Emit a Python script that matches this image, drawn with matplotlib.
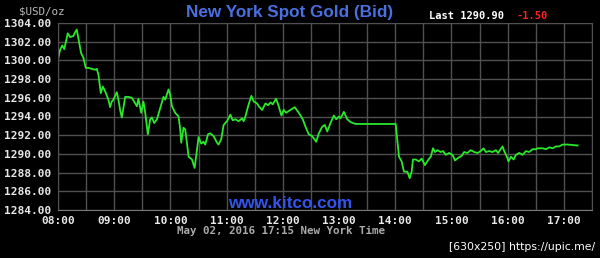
import matplotlib
matplotlib.use("Agg")
import matplotlib.pyplot as plt
import numpy as np

# minutes after 08:00 (New York)
minutes = [0, 2.1, 4.6, 6.7, 10.4, 12.8, 16.4, 18.2, 20.0, 21.7, 24.6, 27.1, 29.6, 32.4,
           39.6, 41.4, 43.1, 45.7, 47.8, 50.3, 53.8, 55.6, 57.4, 59.1, 61.0, 62.8, 64.5,
           66.3, 68.1, 69.8, 71.7, 75.2, 78.8, 82.4, 84.2, 85.9, 87.7, 88.8, 91.2, 93.0,
           95.9, 98.4, 100.2, 102.7, 105.6, 109.1, 112.6, 114.4, 118.0, 119.8, 121.6,
           125.1, 128.7, 130.5, 131.5, 134.0, 135.8, 137.6, 139.4, 143.0, 145.8, 148.3,
           150.0, 152.9, 155.4, 157.2, 160.1, 162.6, 166.1, 169.7, 171.4, 174.3, 176.8,
           180.4, 184.0, 186.4, 189.3, 192.8, 196.5, 198.2, 200.0, 203.5, 206.4, 208.9,
           212.5, 214.2, 217.9, 221.4, 224.3, 226.7, 229.2, 232.8, 235.6, 238.5, 240.9,
           243.5, 248.1, 252.7, 257.0, 261.3, 264.2, 267.7, 271.3, 275.6, 278.4, 282.0,
           284.8, 287.4, 290.9, 294.4, 297.0, 299.8, 301.6, 305.1, 308.8, 312.3, 317.6,
           360.4, 362.2, 364.0, 366.8, 369.3, 372.9, 375.4, 377.5, 378.9, 381.8, 385.3,
           388.2, 391.7, 395.4, 397.9, 400.3, 402.5, 405.0, 408.5, 411.0, 413.9, 417.4,
           421.1, 423.8, 427.5, 431.0, 433.5, 437.1, 440.6, 444.2, 447.8, 451.3, 454.2,
           456.7, 460.2, 463.8, 467.4, 469.8, 474.5, 476.3, 479.1, 480.9, 483.4, 486.3,
           488.8, 492.3, 495.9, 499.5, 503.0, 506.6, 510.1, 512.0, 517.3, 520.8, 524.3,
           528.0, 531.5, 535.0, 538.7, 544.0, 554.7]
bid = [1300.1, 1301.1, 1301.6, 1301.2, 1302.9, 1302.5, 1302.6, 1303.0, 1303.3, 1302.4,
       1300.8, 1300.3, 1299.2, 1299.2, 1299.0, 1299.1, 1298.5, 1296.5, 1297.2, 1296.7,
       1295.8, 1295.0, 1295.6, 1295.8, 1296.2, 1296.6, 1295.8, 1294.7, 1293.9, 1294.9,
       1296.1, 1296.1, 1296.0, 1295.4, 1295.1, 1295.9, 1295.0, 1294.4, 1295.6, 1294.5,
       1292.1, 1293.7, 1293.9, 1293.3, 1293.7, 1294.9, 1296.1, 1295.8, 1296.9, 1296.3,
       1295.1, 1294.4, 1294.0, 1292.6, 1291.2, 1292.8, 1292.6, 1291.2, 1289.7, 1289.4,
       1288.5, 1290.4, 1291.8, 1291.1, 1291.3, 1291.0, 1292.1, 1292.2, 1291.9, 1291.2,
       1291.0, 1291.6, 1293.1, 1293.5, 1294.2, 1293.6, 1293.7, 1293.5, 1293.8, 1293.5,
       1294.0, 1295.3, 1296.2, 1295.6, 1295.4, 1295.1, 1294.7, 1295.4, 1295.2, 1295.5,
       1295.3, 1295.9, 1295.1, 1294.1, 1294.7, 1294.4, 1294.7, 1295.0, 1294.4, 1293.7,
       1292.9, 1292.1, 1291.9, 1291.3, 1292.2, 1292.9, 1293.1, 1292.4, 1293.3, 1294.1,
       1293.7, 1294.0, 1293.8, 1294.5, 1293.7, 1293.4, 1293.2,
       1293.2, 1291.5, 1289.7, 1289.2, 1288.1, 1288.1, 1287.4, 1288.1, 1289.4, 1289.4,
       1289.2, 1289.5, 1288.8, 1289.4, 1289.7, 1290.6, 1290.2, 1290.4, 1290.2, 1290.3,
       1289.9, 1290.1, 1289.9, 1289.3, 1289.6, 1289.8, 1290.2, 1290.1, 1290.4, 1290.2,
       1290.1, 1290.3, 1290.6, 1290.2, 1290.3, 1290.2, 1290.4, 1290.1, 1290.8, 1290.3,
       1289.7, 1289.2, 1289.7, 1289.4, 1289.9, 1290.1, 1289.9, 1290.3, 1290.2, 1290.5,
       1290.5, 1290.6, 1290.6, 1290.5, 1290.7, 1290.6, 1290.8, 1290.8, 1291.0, 1291.0,
       1290.9]

hour_labels = ["08:00", "09:00", "10:00", "11:00", "12:00", "13:00",
               "14:00", "15:00", "16:00", "17:00"]
price_ticks = [1284, 1286, 1288, 1290, 1292, 1294, 1296, 1298, 1300, 1302, 1304]

mono = "DejaVu Sans Mono"
grid_c = "#505050"

fig = plt.figure(figsize=(6.0, 2.58), dpi=100, facecolor="black")
ax = fig.add_axes([58 / 600, 1 - 210 / 258, 534 / 600, 187 / 258], facecolor="black")

ax.plot(minutes, bid, color="#2ae82a", lw=1.3, solid_joinstyle="round")

ax.set_xlim(0, 570)
ax.set_ylim(1284, 1304)
ax.set_xticks([i * 60 for i in range(len(hour_labels))])
ax.set_xticklabels(hour_labels)
ax.set_xticks(np.arange(30, 571, 60), minor=True)
ax.set_yticks(price_ticks)
ax.set_yticklabels([f"{p:.2f}" for p in price_ticks])

ax.grid(True, which="both", color=grid_c, lw=1.0)
ax.set_axisbelow(True)
ax.tick_params(which="both", length=0, colors="#e8e8e8", labelsize=8)
ax.tick_params(axis="y", pad=5)
ax.tick_params(axis="x", pad=4)
for lab in ax.get_xticklabels() + ax.get_yticklabels():
    lab.set_fontfamily(mono)
    lab.set_fontweight("bold")
for s in ax.spines.values():
    s.set_color(grid_c)
ax.spines["bottom"].set_color("#777777")

fig.text(19 / 600, 1 - 11 / 258, "$USD/oz", color="#bbbbbb", family=mono,
         fontsize=7.8, va="center", ha="left")
fig.text(290 / 600, 1 - 12 / 258, "New York Spot Gold (Bid)", color="#4a6fe0",
         family="Liberation Sans", weight="bold", fontsize=12.3, ha="center", va="center")
fig.text(429 / 600, 1 - 16 / 258, "Last 1290.90", color="white", family=mono,
         weight="bold", fontsize=7.5, ha="left", va="center")
fig.text(517 / 600, 1 - 16 / 258, "-1.50", color="#ff2020", family=mono,
         weight="bold", fontsize=7.5, ha="left", va="center")
fig.text(290 / 600, 1 - 203 / 258, "www.kitco.com", color="#3355ee",
         family="Liberation Sans", weight="bold", fontsize=12.3, ha="center", va="center")
fig.text(281 / 600, 1 - 231 / 258, "May 02, 2016 17:15 New York Time", color="#aaaaaa",
         family=mono, weight="bold", fontsize=7.8, ha="center", va="center")
fig.text(595 / 600, 1 - 247 / 258, "[630x250] https://upic.me/", color="white",
         family="DejaVu Sans", fontsize=7.8, ha="right", va="center")

fig.savefig("out.png", dpi=100, facecolor="black")
